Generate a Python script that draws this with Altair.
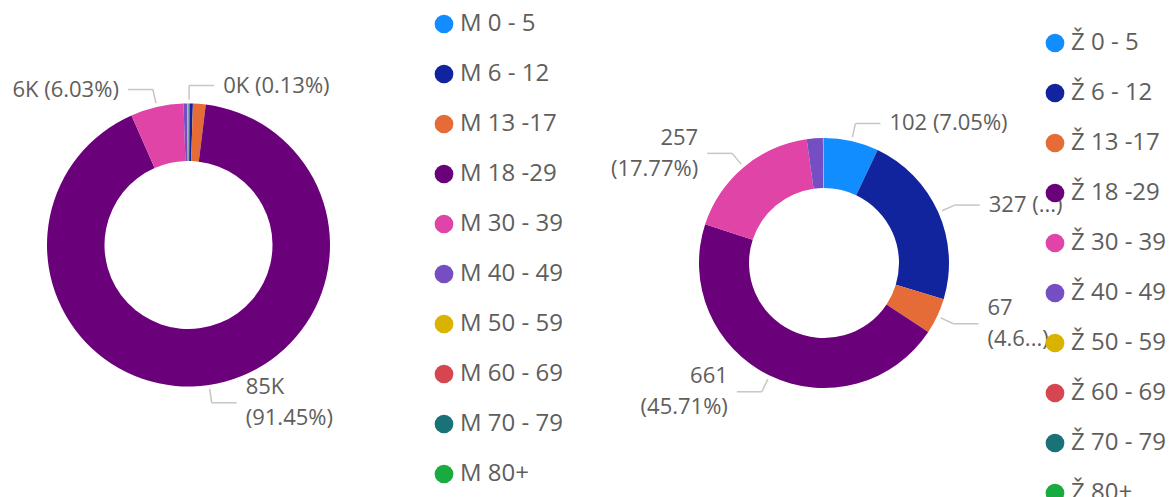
import altair as alt
import pandas as pd

# ---------------- data ----------------
m_categories = ["M 0 - 5", "M 6 - 12", "M 13 -17", "M 18 -29", "M 30 - 39",
                "M 40 - 49", "M 50 - 59", "M 60 - 69", "M 70 - 79", "M 80+"]
m_values = [121, 344, 1349, 85049, 5608, 391, 93, 28, 12, 5]
m_labels = ["0K (0.13%)", "", "", "85K\n(91.45%)", "6K (6.03%)", "", "", "", "", ""]

z_categories = ["Ž 0 - 5", "Ž 6 - 12", "Ž 13 -17", "Ž 18 -29", "Ž 30 - 39",
                "Ž 40 - 49", "Ž 50 - 59", "Ž 60 - 69", "Ž 70 - 79", "Ž 80+"]
z_values = [102, 327, 67, 661, 257, 30, 2, 0, 0, 0]
z_labels = ["102 (7.05%)", "327 (...)", "67\n(4.6...)", "661\n(45.71%)", "257\n(17.77%)",
            "", "", "", "", ""]

colors = ["#118DFF", "#12239E", "#E66C37", "#6B007B", "#E044A7",
          "#744EC2", "#D9B300", "#D64550", "#197278", "#1AAB40"]

FONT = "Segoe UI, Open Sans, sans-serif"
TXT = "#605E5C"
LINE = "#C8C6C4"


def panel(cats, vals, labels, R, r_in, W, H, lx, ly, line_h):
    df = pd.DataFrame({"cat": cats, "value": vals, "label": labels,
                       "idx": list(range(len(cats)))})
    base = alt.Chart(df)
    arcs = base.mark_arc(innerRadius=r_in, outerRadius=R).encode(
        theta=alt.Theta("value:Q", stack=True),
        color=alt.Color("cat:N", scale=alt.Scale(domain=cats, range=colors),
                        legend=alt.Legend(orient="none", legendX=lx, legendY=ly,
                                          title=None, symbolType="circle",
                                          symbolSize=350, symbolStrokeWidth=0,
                                          symbolOpacity=1,
                                          labelFont=FONT, labelFontSize=24,
                                          labelColor=TXT, labelOffset=4,
                                          rowPadding=26, padding=0,
                                          labelLimit=300)),
        order=alt.Order("idx:Q"),
    )
    geo = (base
           .transform_joinaggregate(total="sum(value)")
           .transform_window(cum="sum(value)", sort=[alt.SortField("idx")], frame=[None, 0])
           .transform_calculate(mid="2*PI*(datum.cum - datum.value/2)/datum.total")
           .transform_calculate(s="sin(datum.mid)", c="cos(datum.mid)")
           .transform_calculate(side="datum.s >= 0 ? 1 : -1")
           .transform_calculate(x1=f"{R + 4}*datum.s", y1=f"{R + 4}*datum.c",
                                x2=f"{R + 18}*datum.s", y2=f"{R + 18}*datum.c")
           .transform_calculate(x3="datum.x2 + datum.side*25")
           .transform_calculate(xt="datum.x3 + datum.side*9")
           .transform_calculate(
               yt=f"datum.y2 + (indexof(datum.label, '\\n') >= 0 ? {line_h / 2} : 0)")
           .transform_filter("datum.label != ''"))
    xs = alt.Scale(domain=[-W / 2, W / 2], nice=False, zero=False)
    ys = alt.Scale(domain=[-H / 2, H / 2], nice=False, zero=False)
    radial = geo.mark_rule(color=LINE, strokeWidth=1.5).encode(
        x=alt.X("x1:Q", scale=xs, axis=None), y=alt.Y("y1:Q", scale=ys, axis=None),
        x2="x2:Q", y2="y2:Q")
    horiz = geo.mark_rule(color=LINE, strokeWidth=1.5).encode(
        x=alt.X("x2:Q", scale=xs, axis=None), y=alt.Y("y2:Q", scale=ys, axis=None),
        x2="x3:Q", y2="y2:Q")
    txt_r = geo.transform_filter("datum.side > 0").mark_text(
        align="left", baseline="middle", font=FONT, fontSize=22, color=TXT,
        lineBreak="\n", lineHeight=line_h).encode(
        x=alt.X("xt:Q", scale=xs, axis=None), y=alt.Y("yt:Q", scale=ys, axis=None),
        text="label:N")
    txt_l = geo.transform_filter("datum.side < 0").mark_text(
        align="right", baseline="middle", font=FONT, fontSize=22, color=TXT,
        lineBreak="\n", lineHeight=line_h).encode(
        x=alt.X("xt:Q", scale=xs, axis=None), y=alt.Y("yt:Q", scale=ys, axis=None),
        text="label:N")
    return alt.layer(arcs, radial, horiz, txt_r, txt_l).properties(width=W, height=H)


left = panel(m_categories, m_values, m_labels, 141.5, 84, 361, 474, 424, 4, 31)
right = panel(z_categories, z_values, z_labels, 125, 75, 450, 510, 444, 23, 31)

chart = (alt.hconcat(left, right, spacing=230, bounds="flush")
         .resolve_scale(color="independent", x="independent", y="independent")
         .properties(padding=0)
         .configure_view(stroke=None))

chart.save("out.html", embed_options={"renderer": "svg", "actions": False})
